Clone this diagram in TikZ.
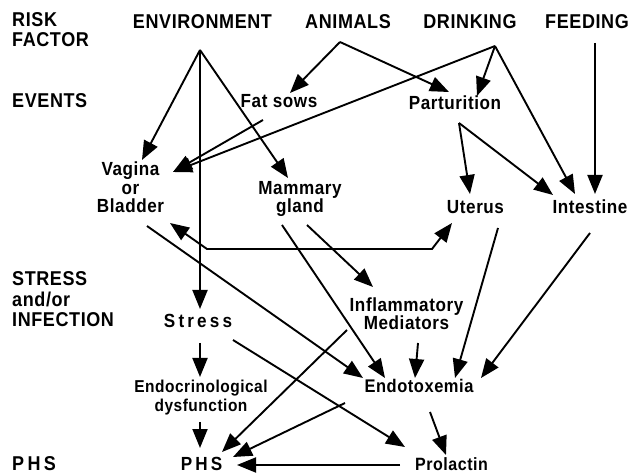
\documentclass[tikz,border=0pt]{standalone}
\usepackage{fontspec}
\newfontfamily\lblfont{Liberation Sans}[LetterSpace=3, FakeStretch=0.9]
\usetikzlibrary{arrows.meta}
\tikzset{
  lbl/.style={font=\lblfont\bfseries\fontsize{19}{18.5}\selectfont, align=center, inner sep=0pt},
  hdr/.style={font=\lblfont\bfseries\fontsize{20}{20}\selectfont, align=left, inner sep=0pt},
  arr/.style={line width=1.9pt, -{Triangle[length=19pt,width=15pt]}},
  ln/.style={line width=1.9pt},
}
\begin{document}
\begin{tikzpicture}[x=1pt,y=-1pt]
\useasboundingbox (0,0) rectangle (630,473);
% left column headings
\node[hdr, anchor=base west, font=\lblfont\bfseries\fontsize{20}{19.5}\selectfont] (risk) at (12,46.5) {RISK\\FACTOR};
\node[hdr, anchor=base west] (events) at (12,108) {EVENTS};
\node[hdr, anchor=base west, font=\lblfont\bfseries\fontsize{20}{21}\selectfont] (stressh) at (12,327) {STRESS\\and/or\\INFECTION};
\node[hdr, anchor=base west, text depth=0pt] (phsh) at (12,470) {P\,H\,S};
% risk factors
\node[hdr, anchor=base] (env) at (202.5,28.5) {ENVIRONMENT};
\node[hdr, anchor=base] (animals) at (348,28.5) {ANIMALS};
\node[hdr, anchor=base] (drink) at (470,28.5) {DRINKING};
\node[hdr, anchor=base] (feed) at (587,28.5) {FEEDING};
% events
\node[lbl, anchor=base] (fat) at (279,108) {Fat sows};
\node[lbl, anchor=base] (part) at (455,109.5) {Parturition};
\node[lbl, anchor=base] (vag) at (130.5,213) {Vagina\\or\\Bladder};
\node[lbl, anchor=base] (mam) at (300,213) {Mammary\\gland};
\node[lbl, anchor=base] (ute) at (475.5,214) {Uterus};
\node[lbl, anchor=base] (int) at (590,214) {Intestine};
% stress / infection
\node[lbl, anchor=base] (stress) at (198,328) {S\,t\,r\,e\,s\,s};
\node[lbl, anchor=base, font=\lblfont\bfseries\fontsize{19}{17}\selectfont] (infl) at (406.5,330) {Inflammatory\\Mediators};
\node[lbl, anchor=base, font=\lblfont\bfseries\fontsize{18.3}{18}\selectfont] (endo) at (419,393) {Endotoxemia};
\node[lbl, anchor=base, font=\lblfont\bfseries\fontsize{17.2}{18}\selectfont] (edys) at (201,411) {Endocrinological\\dysfunction};
% PHS row
\node[lbl, anchor=base, text depth=0pt] (phs) at (201.5,470) {P\,H\,S};
\node[lbl, anchor=base, text depth=0pt, font=\lblfont\bfseries\fontsize{17.8}{18}\selectfont] (prol) at (451.5,470.5) {Prolactin};
% connector points
\coordinate (envA) at (200,50);
\coordinate (aniA) at (340,42);
\coordinate (driA) at (495,46);
\coordinate (feeA) at (595,43);
\coordinate (fatA) at (263,120);
\coordinate (parA) at (459,123);
\coordinate (vagT) at (142,160);
\coordinate (vagT2) at (173,172);
\coordinate (stressT) at (200,309);
\coordinate (mamT) at (288,178);
\coordinate (fatT) at (290,93);
\coordinate (parT) at (449,92);
\coordinate (parT2) at (477,96);
\coordinate (intT1) at (553,195);
\coordinate (intT2) at (575,194);
\coordinate (intT3) at (595,194);
\coordinate (uteT) at (470,194);
\coordinate (vagB) at (170,223);
\coordinate (bend1) at (207,249);
\coordinate (bend2) at (432,249);
\coordinate (uteB) at (452,223);
\coordinate (vagS) at (147,226);
\coordinate (mamS1) at (282,225);
\coordinate (mamS2) at (307,225);
\coordinate (inflT) at (373,287);
\coordinate (inflS) at (418,343);
\coordinate (inflS2) at (347,330);
\coordinate (uteS) at (498,228);
\coordinate (intS) at (590,233);
\coordinate (endoT1) at (363,378);
\coordinate (endoT2) at (385,378);
\coordinate (endoT3) at (415,378);
\coordinate (endoT4) at (455,378);
\coordinate (endoT5) at (481,378);
\coordinate (stressS) at (200,343);
\coordinate (edysT) at (200,377);
\coordinate (edysS) at (200,422);
\coordinate (phsT) at (200,448);
\coordinate (stressS2) at (233,340);
\coordinate (prolT) at (405,447);
\coordinate (endoS) at (430,412);
\coordinate (prolT2) at (446,455);
\coordinate (phsT2) at (222,452);
\coordinate (endoS2) at (345,403);
\coordinate (phsT3) at (233,457);
\coordinate (prolS) at (400,465);
\coordinate (phsT4) at (237,465);
% environment
\draw[arr] (envA) -- (vagT);
\draw[arr] (envA) -- (stressT);
\draw[arr] (envA) -- (mamT);
% animals
\draw[arr] (aniA) -- (fatT);
\draw[arr] (aniA) -- (parT);
% drinking
\draw[arr] (driA) -- (vagT2);
\draw[arr] (driA) -- (parT2);
\draw[arr] (driA) -- (intT2);
% feeding
\draw[arr] (feeA) -- (intT3);
% fat sows
\draw[arr] (fatA) -- (vagT2);
% parturition
\draw[arr] (parA) -- (uteT);
\draw[arr] (parA) -- (intT1);
% vagina <-> uterus
\draw[ln, {Triangle[length=19pt,width=15pt]}-{Triangle[length=19pt,width=15pt]}] (vagB) -- (bend1) -- (bend2) -- (uteB);
% to endotoxemia
\draw[arr] (vagS) -- (endoT1);
\draw[arr] (mamS1) -- (endoT2);
\draw[arr] (mamS2) -- (inflT);
\draw[arr] (inflS) -- (endoT3);
\draw[arr] (uteS) -- (endoT4);
\draw[arr] (intS) -- (endoT5);
% stress chain
\draw[arr] (stressS) -- (edysT);
\draw[arr] (edysS) -- (phsT);
\draw[arr] (stressS2) -- (prolT);
\draw[arr] (endoS) -- (prolT2);
\draw[arr] (inflS2) -- (phsT2);
\draw[arr] (endoS2) -- (phsT3);
\draw[arr] (prolS) -- (phsT4);
\end{tikzpicture}
\end{document}
